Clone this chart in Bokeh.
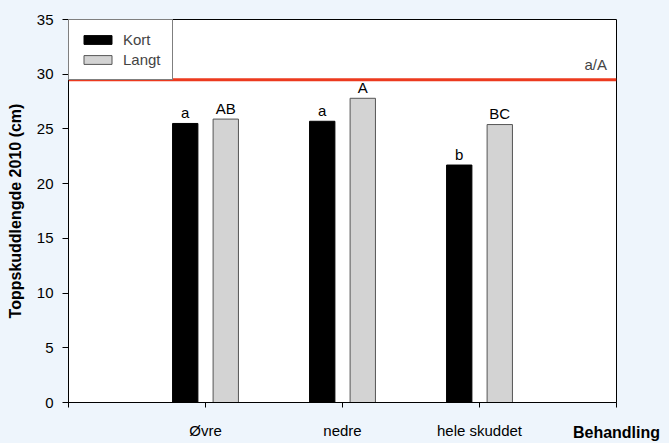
import numpy as np
from bokeh.plotting import figure
from bokeh.models import ColumnDataSource, Span, Label, Legend, LegendItem, FixedTicker, Range1d
from bokeh.core.properties import value
from bokeh.transform import dodge
from bokeh.embed import file_html
from bokeh.resources import INLINE

# ---- data ----
categories = ["Øvre", "nedre", "hele skuddet"]
kort = [25.5, 25.7, 21.7]
langt = [25.9, 27.8, 25.4]
kort_letters = ["a", "a", "b"]
langt_letters = ["AB", "A", "BC"]
control_value = 29.5
control_label = "a/A"
y_ticks = [0, 5, 10, 15, 20, 25, 30, 35]
series_names = ["Kort", "Langt"]
x_title = "Behandling"
y_title = "Toppskuddlengde 2010 (cm)"

FONT = "Liberation Sans"
BG = "#EEF5FC"

x_pos = list(range(1, len(categories) + 1))
src = ColumnDataSource(dict(x=x_pos, kort=kort, langt=langt,
                            kl=kort_letters, ll=langt_letters))

p = figure(width=669, height=443, output_backend="svg", toolbar_location=None,
           x_range=Range1d(0, len(categories) + 1), y_range=Range1d(0, 35),
           min_border_left=68, min_border_right=53, min_border_top=19, min_border_bottom=41)
p.background_fill_color = "white"
p.border_fill_color = BG
p.outline_line_color = "black"
p.outline_line_width = 1
p.grid.visible = False

off = 0.148
w = 0.185
r1 = p.vbar(x=dodge("x", -off), top="kort", width=w, source=src,
            fill_color="black", line_color="black", line_width=1)
r2 = p.vbar(x=dodge("x", off), top="langt", width=w, source=src,
            fill_color="#D3D3D3", line_color="#555555", line_width=1)

txt = dict(text_align="center", text_baseline="alphabetic", y_offset=-11,
           text_font=value(FONT), text_font_size="15px", text_color="black")
p.text(x=dodge("x", -off), y="kort", text="kl", source=src, **txt)
p.text(x=dodge("x", off), y="langt", text="ll", source=src, **txt)

p.add_layout(Span(location=control_value, dimension="width",
                  line_color="#EC3A1E", line_width=3))
p.add_layout(Label(x=len(categories) + 0.93, y=control_value, text=control_label,
                   text_align="right", text_baseline="alphabetic", y_offset=15,
                   text_font=FONT, text_font_size="15px"))

# axes
p.xaxis.ticker = FixedTicker(ticks=list(range(0, len(categories) + 2)))
overrides = {0: "", len(categories) + 1: ""}
for i, c in zip(x_pos, categories):
    overrides[i] = c
p.xaxis.major_label_overrides = overrides
p.yaxis.ticker = FixedTicker(ticks=y_ticks)
for ax in (p.xaxis[0], p.yaxis[0]):
    ax.major_tick_in = 0
    ax.minor_tick_line_color = None
    ax.axis_line_color = "black"
    ax.major_tick_line_color = "black"
    ax.major_label_text_font = FONT
    ax.major_label_text_font_size = "15px"
    ax.major_label_text_color = "black"
    ax.axis_label_text_font = FONT
    ax.axis_label_text_font_size = "16px"
    ax.axis_label_text_font_style = "bold"
    ax.axis_label_text_color = "black"
p.xaxis.major_tick_out = 5
p.xaxis.major_label_standoff = 14
p.yaxis.major_tick_out = 6
p.yaxis.major_label_standoff = 9
p.yaxis.axis_label = y_title
p.yaxis.axis_label_standoff = 10

xa = p.xaxis[0]
xa.axis_label = x_title
xa.axis_label_standoff = -18
xa.axis_label_align = "end"

legend = Legend(items=[LegendItem(label=series_names[0], renderers=[r1]),
                       LegendItem(label=series_names[1], renderers=[r2])],
                location="top_left", margin=0, padding=11, spacing=3,
                glyph_width=35, glyph_height=11, label_height=17, label_standoff=8,
                label_text_font=FONT, label_text_font_size="15px",
                border_line_color="black", border_line_width=1,
                background_fill_color="white", background_fill_alpha=1)
p.add_layout(legend)

html = file_html(p, INLINE)
html = html.replace("</head>", "<style>body{background:%s;}</style></head>" % BG, 1)
open("out.html", "w").write(html)
